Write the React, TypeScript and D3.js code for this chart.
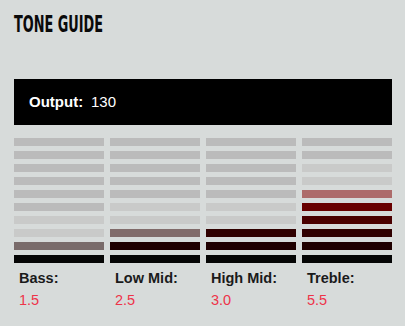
import React from "react";
import * as d3 from "d3";

const bands = ["Bass", "Low Mid", "High Mid", "Treble"];
const values = [1.5, 2.5, 3.0, 5.5];
const levels = [1, 2, 3, 4, 5, 6, 7, 8, 9, 10];
const levelColors = ["#050505", "#1f0000", "#300000", "#4a0000", "#680000", "#8e0000", "#a80000", "#c20000", "#dc0000", "#f00000"];
const outputValue = 130;
const title = "TONE GUIDE";

const W = 405, H = 326;
const BG = "#d7dbda";
const DARK_GREY = "#bbbbbb";
const LIGHT_GREY = "#c9cac9";

export default function App() {
  const x = d3.scaleBand<string>().domain(bands).range([14, 392]).paddingInner(0.0625).paddingOuter(0);
  const y = d3.scaleBand<number>().domain([...levels].reverse()).range([138, 263]).paddingInner(5 / 13).paddingOuter(0);
  const fmt = d3.format(".1f");

  const cells: JSX.Element[] = [];
  bands.forEach((b, bi) => {
    const v = values[bi];
    const full = Math.floor(v);
    const ceil = Math.ceil(v);
    levels.forEach((l) => {
      const xx = x(b)!;
      const yy = y(l)!;
      const w = x.bandwidth();
      const h = y.bandwidth();
      const key = `${b}-${l}`;
      if (l <= full) {
        cells.push(<rect key={key} x={xx} y={yy} width={w} height={h} fill={levelColors[l - 1]} />);
      } else if (l === ceil && ceil > full) {
        cells.push(
          <g key={key}>
            <rect x={xx} y={yy} width={w} height={h} fill={LIGHT_GREY} />
            <rect x={xx} y={yy} width={w} height={h} fill={levelColors[l - 1]} opacity={0.47} />
          </g>
        );
      } else if (l <= ceil + 2) {
        cells.push(<rect key={key} x={xx} y={yy} width={w} height={h} fill={LIGHT_GREY} />);
      } else {
        cells.push(<rect key={key} x={xx} y={yy} width={w} height={h} fill={DARK_GREY} />);
      }
    });
  });

  return (
    <svg width={W} height={H} style={{ position: "fixed", left: 0, top: 0, display: "block" }}>
      <rect x={0} y={0} width={W} height={H} fill={BG} />
      <text x={14} y={32} fontFamily="'Liberation Sans Narrow', 'DejaVu Sans Condensed', sans-serif" fontWeight="bold" fontSize={23} fill="#0a0a0a" textLength={89} lengthAdjust="spacingAndGlyphs">{title}</text>
      <rect x={14} y={79} width={378} height={46} fill="#000" />
      <text x={29} y={107} fontFamily="'Liberation Sans', Arial, sans-serif" fontSize={15} fill="#fff">
        <tspan fontWeight="bold">Output:</tspan>
        <tspan x={91}>{outputValue}</tspan>
      </text>
      {cells}
      {bands.map((b, bi) => (
        <g key={b}>
          <text x={x(b)! + 5} y={283} fontFamily="'Liberation Sans', Arial, sans-serif" fontWeight="bold" fontSize={14.5} fill="#1a1a1a">{b}:</text>
          <text x={x(b)! + 5} y={305} fontFamily="'Liberation Sans', Arial, sans-serif" fontSize={14.5} fill="#ee3349">{fmt(values[bi])}</text>
        </g>
      ))}
    </svg>
  );
}
